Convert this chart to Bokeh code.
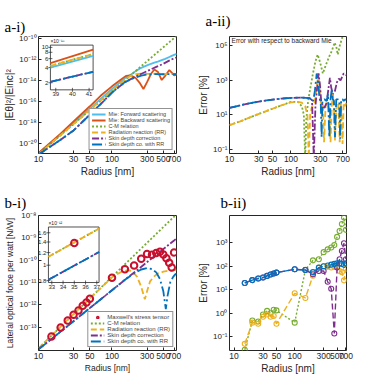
import math
from bokeh.plotting import figure
from bokeh.models import (GridBox, Legend, LegendItem, FixedTicker,
                          CustomJSTickFormatter, Label, Range1d, LinearScale, LogScale)
from bokeh.core.properties import value
from bokeh.embed import file_html
from bokeh.resources import INLINE

# ---------------- data -----------------
# a-i : |E_theta|^2 / |E_inc|^2
ai_r_mie = [10, 20, 30, 50, 70, 100, 130, 155, 180, 210, 240, 268, 300, 340,
            377, 420, 475, 530, 603, 650, 700, 760]
ai_back = [1.12e-21, 7.94e-20, 1.12e-18, 3.16e-17, 3.16e-16, 2.51e-15, 1.0e-14,
           2.51e-14, 2.82e-14, 1.58e-14, 5.01e-15, 1.41e-15, 6.31e-15, 3.98e-14,
           1.0e-13, 6.31e-14, 1.0e-14, 2.51e-14, 8.91e-14, 5.01e-14, 2.82e-14, 3.16e-14]
ai_fwd = [8.91e-22, 6.31e-20, 7.94e-19, 1.78e-17, 1.58e-16, 1.41e-15, 6.31e-15,
          1.78e-14, 3.16e-14, 7.08e-14, 1.26e-13, 1.78e-13, 2.51e-13, 3.55e-13,
          4.47e-13, 5.62e-13, 7.94e-13, 1.05e-12, 1.58e-12, 2.0e-12, 2.51e-12, 3.16e-12]
ai_r_cm = [10, 30, 100, 300, 700, 760]
ai_cm = [8.5e-22, 6.3e-19, 8.5e-16, 6.2e-13, 1.0e-10, 1.64e-10]
ai_r_rr = [10, 20, 30, 50, 70, 100, 130, 155, 180, 210, 250, 300, 400, 500, 600, 700, 760]
ai_rr = [8.5e-22, 5.62e-20, 6.31e-19, 1.41e-17, 1.12e-16, 1.0e-15, 4.47e-15, 1.26e-14,
         2.51e-14, 3.55e-14, 3.98e-14, 3.8e-14, 3.98e-14, 3.55e-14, 3.98e-14, 3.8e-14, 3.8e-14]
ai_r_sd = [10, 20, 30, 50, 70, 100, 150, 200, 300, 400, 500, 600, 700, 760]
ai_sd = [7.94e-22, 2.0e-20, 1.58e-19, 5.01e-18, 5.01e-17, 6.31e-16, 6.31e-15, 1.78e-14,
         7.08e-14, 1.78e-13, 3.55e-13, 7.08e-13, 1.17e-12, 1.41e-12]
ai_r_sdrr = [10, 20, 30, 50, 70, 100, 150, 200, 250, 300, 400, 500, 600, 700, 760]
ai_sdrr = [7.94e-22, 2.0e-20, 1.58e-19, 5.01e-18, 5.01e-17, 6.31e-16, 6.31e-15, 1.58e-14,
           2.63e-14, 3.31e-14, 3.72e-14, 3.55e-14, 3.72e-14, 3.63e-14, 3.63e-14]
# a-i inset (x1e-18)
ins_a_r = [38.68, 41.24]
ins_a_back = [4.9, 9.0]
ins_a_rr = [4.3, 7.4]
ins_a_fwd = [4.0, 6.8]
ins_a_sd = [2.09, 3.3]

# a-ii : error [%] w.r.t. backward Mie
aii_r_sdrr = [10, 15, 20, 30, 50, 70, 100, 150, 200, 215, 230, 245, 262, 275, 290, 305,
              315, 325, 350, 380, 400, 420, 440, 460, 480, 500, 520, 545, 580, 610, 630,
              655, 690, 720, 760, 800]
aii_sdrr = [25.1, 35.5, 44.7, 58.9, 75.9, 87.1, 95.5, 100, 93.3, 79.4, 63.1, 251, 2512,
            1000, 100, 50.1, 0.5, 63.1, 79.4, 63.1, 158, 0.5, 79.4, 316, 79.4, 63.1, 0.5,
            79.4, 79.4, 63.1, 0.4, 79.4, 79.4, 63.1, 79.4, 70.8]
aii_r_sd = [10, 15, 20, 30, 50, 70, 100, 150, 200, 220, 235, 250, 265, 280, 295, 310, 330,
            350, 380, 410, 430, 450, 480, 520, 560, 600, 640, 680, 720, 800]
aii_sd = [25.1, 35.5, 44.7, 58.9, 75.9, 87.1, 95.5, 100, 93.3, 70.8, 0.032, 31.6, 316,
          2512, 631, 63.1, 31.6, 25.1, 50.1, 398, 1413, 398, 158, 251, 794, 1259, 1000,
          1585, 2512, 1995]
aii_r_rr = [10, 15, 20, 30, 50, 70, 100, 130, 150, 170, 185, 195, 205, 220, 240, 260, 280,
            295, 310, 330, 345, 365, 390, 415, 440, 460, 480, 500, 520, 550, 590, 620,
            650, 690, 720, 760, 800]
aii_rr = [2.51, 4.17, 6.31, 11.2, 22.4, 35.5, 52.5, 56.2, 50.1, 31.6, 10, 0.032, 10, 31.6,
          39.8, 316, 2512, 251, 20, 39.8, 0.25, 31.6, 50.1, 25.1, 0.25, 31.6, 158, 31.6,
          0.32, 39.8, 50.1, 0.25, 50.1, 0.2, 50.1, 31.6, 50.1]
aii_r_cm = [10, 15, 20, 30, 50, 70, 100, 130, 150, 162, 170, 178, 190, 205, 225, 250, 272,
            300, 330, 370, 420, 460, 513, 550, 577, 620, 690, 800]
aii_cm = [2.51, 4.17, 6.31, 11.2, 22.4, 35.5, 56.2, 56.2, 31.6, 10, 0.032, 6.31, 63.1, 316,
          1995, 12589, 31623, 10000, 2512, 7943, 25119, 50119, 158489, 79433, 31623,
          100000, 354813, 794328]

# b-i : lateral optical force per watt [N/W]
bi_r_mst = [15, 20, 25, 30, 35, 40, 45, 50, 100, 150, 200, 250, 300, 350, 400, 450, 500,
            550, 600, 650, 700]
bi_mst = [3.8e-14, 9.55e-14, 1.95e-13, 3.55e-13, 5.5e-13, 8.91e-13, 1.26e-12, 1.86e-12,
          1.62e-11, 3.89e-11, 5.75e-11, 1.15e-10, 1.86e-10, 1.74e-10, 2.09e-10, 2.4e-10,
          1.78e-10, 1.2e-10, 7.59e-11, 4.68e-11, 2.19e-10]
bi_r_cm = [10, 100, 700, 760]
bi_cm = [1.12e-14, 1.78e-11, 8.91e-9, 1.15e-8]
bi_r_rr = [10, 30, 50, 100, 130, 160, 190, 220, 250, 280, 300, 330, 370, 420, 500, 600, 700, 760]
bi_rr = [1.12e-14, 3.8e-13, 1.91e-12, 1.7e-11, 2.82e-11, 3.55e-11, 3.16e-11, 1.78e-11,
         6.31e-12, 1.78e-12, 3.98e-12, 1.12e-11, 1.78e-11, 2.51e-11, 3.02e-11, 3.39e-11,
         3.55e-11, 3.63e-11]
bi_r_sd = [10, 100, 700, 760]
bi_sd = [1.0e-14, 4.47e-12, 7.59e-10, 9.55e-10]
bi_r_sdrr = [10, 30, 50, 100, 150, 200, 250, 300, 350, 400, 450, 500, 540, 570, 620, 680, 720, 760]
bi_sdrr = [1.0e-14, 1.82e-13, 7.08e-13, 4.47e-12, 1.32e-11, 2.51e-11, 3.8e-11, 4.37e-11,
           3.98e-11, 2.82e-11, 1.41e-11, 3.98e-12, 6.31e-13, 2.51e-12, 1.0e-11, 1.78e-11,
           2.24e-11, 2.51e-11]
# b-i inset (x1e-12)
ins_b_r = [32.7, 37.2]
ins_b_rr = [1.13, 1.70]
ins_b_sd = [0.81, 1.21]
ins_b_mst_r = [35]
ins_b_mst = [1.38]

# b-ii : error [%]
bii_r = [15, 20, 25, 30, 35, 40, 45, 50, 100, 150, 200, 250, 300, 350, 400, 450, 500,
         550, 600, 650, 700]
bii_sdrr = [19.5, 25.7, 30.2, 33.1, 38.9, 44.7, 49.0, 53.7, 74.1, 69.2, 56.2, 87.1, 100,
            107, 117, 126, 132, 132, 126, 115, 132]
bii_sd = [19.5, 25.7, 30.2, 33.1, 38.9, 44.7, 49.0, 53.7, 74.1, 69.2, 45.7, 63.1, 63.1,
          21.9, 11.0, 0.138, 89.1, 200, 447, 955, 200]
bii_cm = [0.028, 0.49, 0.447, 0.891, 1.26, 1.0, 1.41, 1.32, 0.398, 70.8, 178, 200, 398,
          525, 631, 794, 1778, 3162, 6310, 11749, 3548]
bii_rr = [0.05, 0.398, 0.355, 0.708, 0.891, 0.708, 0.759, 0.355, 7.08, 4.47, 39.8, 89.1,
          100, 95.5, 89.1, 93.3, 95.5, 63.1, 56.2, 25.1, 79.4]

# ticks
x_ticks = [10, 30, 50, 100, 300, 500, 700]
x_labels = ["10", "30", "50", "100", "300", "500", "700"]
x_ticks_aii = [10, 30, 50, 100, 300, 700]
x_labels_aii = ["10", "30", "50", "100", "300", "700"]
y_ticks_ai = [1e-20, 1e-18, 1e-16, 1e-14, 1e-12, 1e-10]
y_labels_ai = ["10⁻²⁰", "10⁻¹⁸", "10⁻¹⁶", "10⁻¹⁴", "10⁻¹²", "10⁻¹⁰"]
y_ticks_aii = [0.1, 10, 1000, 100000]
y_labels_aii = ["10⁻¹", "10¹", "10³", "10⁵"]
y_ticks_bi = [1e-13, 1e-12, 1e-11, 1e-10, 1e-9, 1e-8]
y_labels_bi = ["10⁻¹³", "10⁻¹²", "10⁻¹¹", "10⁻¹⁰", "10⁻⁹", "10⁻⁸"]
y_ticks_bii = [0.1, 1, 10, 100, 1000]
y_labels_bii = ["10⁻¹", "10⁰", "10¹", "10²", "10³"]
ins_a_xt = [39, 40, 41]
ins_a_xl = ["39", "40", "41"]
ins_a_yt = [2, 4, 6, 8, 10]
ins_a_yl = ["2", "4", "6", "8", "10"]
ins_b_xt = [33, 34, 35, 36, 37]
ins_b_xl = ["33", "34", "35", "36", "37"]
ins_b_yt = [0.8, 1.0, 1.2, 1.4, 1.6]
ins_b_yl = ["0.8", "1", "1.2", "1.4", "1.6"]

# ---------------- styles -----------------
C_LBLUE, C_RED, C_GREEN = "#4DBEEE", "#D95319", "#77AC30"
C_YEL, C_PUR, C_BLUE, C_MST = "#EDB120", "#7E2F8E", "#0072BD", "#C8102E"
DOT, DASH, DASHDOT_P, DASHDOT_B = "2 2", "6 3", "7 2 2 2", "10 3 2 3"
FONT = "Liberation Sans"
INK = "#262626"
LW = 1.8


def fmt(tv, tl):
    return CustomJSTickFormatter(args=dict(tvals=tv, tlabs=tl), code="""
        let best = 0, d = Infinity;
        for (let i = 0; i < tvals.length; i++) {
            const e = Math.abs(Math.log(tick / tvals[i]));
            if (e < d) { d = e; best = i; }
        }
        return tlabs[best];
    """)


def make_fig(w, h, xr, yr, borders, title, tstand, toff):
    p = figure(width=w, height=h, x_axis_type="log", y_axis_type="log",
               x_range=Range1d(*xr), y_range=Range1d(*yr),
               output_backend="svg", toolbar_location=None,
               min_border_top=borders[0], min_border_right=borders[1],
               min_border_bottom=borders[2], min_border_left=borders[3])
    p.grid.visible = False
    p.outline_line_color = INK
    p.outline_line_width = 1
    p.background_fill_color = "white"
    p.border_fill_color = "white"
    p.axis.axis_line_color = None
    p.axis.major_tick_in = 3
    p.axis.major_tick_out = 0
    p.axis.major_tick_line_color = INK
    p.axis.minor_tick_line_color = None
    p.axis.major_label_text_font = FONT
    p.axis.major_label_text_color = INK
    p.axis.axis_label_text_font = FONT
    p.axis.axis_label_text_font_style = "normal"
    p.axis.axis_label_text_color = INK
    p.title.text = title
    p.title.text_font = "Liberation Serif"
    p.title.text_font_style = "normal"
    p.title.text_font_size = "15px"
    p.title.standoff = tstand
    p.title.offset = toff
    p.title.text_color = "black"
    return p


def set_axes(p, xt, xl, yt, yl, xlab, ylab, lfs="10px"):
    p.xaxis.ticker = FixedTicker(ticks=xt)
    p.xaxis.formatter = fmt(xt, xl)
    p.yaxis.ticker = FixedTicker(ticks=yt)
    p.yaxis.formatter = fmt(yt, yl)
    p.xaxis.major_label_text_font_size = "8.5px"
    p.yaxis.major_label_text_font_size = "8px"
    p.axis.major_label_standoff = 2
    p.xaxis.axis_label = xlab
    p.yaxis.axis_label = ylab
    p.axis.axis_label_text_font_size = lfs
    p.axis.axis_label_standoff = 1


def legend(p, items, fs):
    lg = Legend(items=items, location="bottom_right", label_text_font=FONT,
                label_text_font_size=fs, label_height=4, glyph_height=4,
                glyph_width=14, label_standoff=3, spacing=0, padding=2,
                margin=3, border_line_color=INK, border_line_width=0.8,
                background_fill_alpha=1)
    p.add_layout(lg)


def span_range(frame_len, i0, i1, d0, d1, log):
    """Extend an inset's data range so that it maps onto pixels i0..i1 of a frame."""
    a, b = (math.log10(d0), math.log10(d1)) if log else (d0, d1)
    per = (b - a) / (i1 - i0)
    lo, hi = a - i0 * per, b + (frame_len - i1) * per
    return (10 ** lo, 10 ** hi) if log else (lo, hi)


def inset(p, name, frame_wh, box_px, xr, yr, xt, xl, yt, yl, mult):
    """Inset axes drawn inside the main frame through extra (linear x, log y) scales."""
    fw, fh = frame_wh
    x0p, x1p, y0p, y1p = box_px  # pixels from the frame's left / bottom edges
    p.extra_x_ranges[name + "x"] = Range1d(*span_range(fw, x0p, x1p, xr[0], xr[1], False))
    p.extra_y_ranges[name + "y"] = Range1d(*span_range(fh, y0p, y1p, yr[0], yr[1], True))
    p.extra_x_scales[name + "x"] = LinearScale()
    p.extra_y_scales[name + "y"] = LogScale()
    kw = dict(x_range_name=name + "x", y_range_name=name + "y")
    p.quad(left=xr[0], right=xr[1], bottom=yr[0], top=yr[1], fill_color="white",
           line_color=INK, line_width=0.8, **kw)
    p.scatter(xt, [yr[0]] * len(xt), marker="dash", angle=math.pi / 2, size=4,
              line_color=INK, line_width=0.7, **kw)
    p.scatter([xr[0]] * len(yt), yt, marker="dash", size=4, line_color=INK,
              line_width=0.7, **kw)
    p.text(xt, [yr[0]] * len(xt), text=xl, text_font=value(FONT), text_font_size="6px",
           text_color=INK, text_align="center", text_baseline="top", y_offset=2, **kw)
    p.text([xr[0]] * len(yt), yt, text=yl, text_font=value(FONT), text_font_size="6px",
           text_color=INK, text_align="right", text_baseline="middle", x_offset=-2, **kw)
    p.text([xr[0]], [yr[1]], text=[mult], text_font=value(FONT), text_font_size="5px",
           text_color=INK, text_align="left", text_baseline="bottom", y_offset=-1, **kw)
    return kw


# ---------------- a-i -----------------
fa1 = make_fig(184, 184, (10, 755), (1e-21, 1.41e-10), (19, 8, 29, 37), "a-i)", 3, -34)
set_axes(fa1, x_ticks, x_labels, y_ticks_ai, y_labels_ai, "Radius [nm]", "|Eθ|²/|Einc|²")
r_f = fa1.line(ai_r_mie, ai_fwd, color=C_LBLUE, line_width=LW)
r_b = fa1.line(ai_r_mie, ai_back, color=C_RED, line_width=LW)
r_c = fa1.line(ai_r_cm, ai_cm, color=C_GREEN, line_width=LW, line_dash=DOT)
r_r = fa1.line(ai_r_rr, ai_rr, color=C_YEL, line_width=LW, line_dash=DASH)
r_s = fa1.line(ai_r_sd, ai_sd, color=C_PUR, line_width=LW, line_dash=DASHDOT_P)
r_sr = fa1.line(ai_r_sdrr, ai_sdrr, color=C_BLUE, line_width=LW, line_dash=DASHDOT_B)
legend(fa1, [LegendItem(label="Mie: Forward scattering", renderers=[r_f]),
             LegendItem(label="Mie: Backward scattering", renderers=[r_b]),
             LegendItem(label="C-M relation", renderers=[r_c]),
             LegendItem(label="Radiation reaction (RR)", renderers=[r_r]),
             LegendItem(label="Skin depth correction", renderers=[r_s]),
             LegendItem(label="Skin depth co. with RR", renderers=[r_sr])], "5.5px")
kwa = inset(fa1, "ia", (139, 136), (12, 55, 74, 126), (38.68, 41.24), (1.45, 11.1),
            ins_a_xt, ins_a_xl, ins_a_yt, ins_a_yl, "×10⁻¹⁸")
fa1.line(ins_a_r, ins_a_fwd, color=C_LBLUE, line_width=LW, **kwa)
fa1.line(ins_a_r, ins_a_back, color=C_RED, line_width=LW, **kwa)
fa1.line(ins_a_r, ins_a_rr, color=C_GREEN, line_width=LW, line_dash=DOT, **kwa)
fa1.line(ins_a_r, ins_a_rr, color=C_YEL, line_width=LW, line_dash=DASH, **kwa)
fa1.line(ins_a_r, ins_a_sd, color=C_PUR, line_width=LW, line_dash=DASHDOT_P, **kwa)
fa1.line(ins_a_r, ins_a_sd, color=C_BLUE, line_width=LW, line_dash=DASHDOT_B, **kwa)

# ---------------- a-ii -----------------
fa2 = make_fig(182, 184, (10, 800), (0.056, 3.55e5), (36, 20, 31, 45), "a-ii)", 15, -24)
set_axes(fa2, x_ticks_aii, x_labels_aii, y_ticks_aii, y_labels_aii, "Radius [nm]", "Error [%]")
fa2.line(aii_r_cm, aii_cm, color=C_GREEN, line_width=LW, line_dash=DOT)
fa2.line(aii_r_rr, aii_rr, color=C_YEL, line_width=LW, line_dash=DASH)
fa2.line(aii_r_sd, aii_sd, color=C_PUR, line_width=LW, line_dash=DASHDOT_P)
fa2.line(aii_r_sdrr, aii_sdrr, color=C_BLUE, line_width=LW, line_dash=DASHDOT_B)
fa2.add_layout(Label(x=10.8, y=2.0e5, text="Error with respect to backward Mie",
                     text_font=FONT, text_font_size="6.5px", text_color=INK,
                     text_baseline="middle"))

# ---------------- b-i -----------------
fb1 = make_fig(184, 192, (10, 755), (8.9e-15, 1e-8), (29, 8, 22, 37), "b-i)", 10, -34)
set_axes(fb1, x_ticks, x_labels, y_ticks_bi, y_labels_bi, "Radius [nm]",
         "Lateral optical force per watt [N/W]", lfs="8.5px")
q_c = fb1.line(bi_r_cm, bi_cm, color=C_GREEN, line_width=LW, line_dash=DOT)
q_r = fb1.line(bi_r_rr, bi_rr, color=C_YEL, line_width=LW, line_dash=DASH)
q_s = fb1.line(bi_r_sd, bi_sd, color=C_PUR, line_width=LW, line_dash=DASHDOT_P)
q_sr = fb1.line(bi_r_sdrr, bi_sdrr, color=C_BLUE, line_width=LW, line_dash=DASHDOT_B)
q_m = fb1.scatter(bi_r_mst, bi_mst, marker="circle", size=6.5, fill_color=None,
                  line_color=C_MST, line_width=2)
legend(fb1, [LegendItem(label="Maxwell's stress tensor", renderers=[q_m]),
             LegendItem(label="C-M relation", renderers=[q_c]),
             LegendItem(label="Radiation reaction (RR)", renderers=[q_r]),
             LegendItem(label="Skin depth correction", renderers=[q_s]),
             LegendItem(label="Skin depth co. with RR", renderers=[q_sr])], "6px")
kwb = inset(fb1, "ib", (139, 141), (10, 61, 71, 129), (32.7, 37.2), (0.778, 1.74),
            ins_b_xt, ins_b_xl, ins_b_yt, ins_b_yl, "×10⁻¹²")
fb1.line(ins_b_r, ins_b_rr, color=C_GREEN, line_width=LW, line_dash=DOT, **kwb)
fb1.line(ins_b_r, ins_b_rr, color=C_YEL, line_width=LW, line_dash=DASH, **kwb)
fb1.line(ins_b_r, ins_b_sd, color=C_PUR, line_width=LW, line_dash=DASHDOT_P, **kwb)
fb1.line(ins_b_r, ins_b_sd, color=C_BLUE, line_width=LW, line_dash=DASHDOT_B, **kwb)
fb1.scatter(ins_b_mst_r, ins_b_mst, marker="circle", size=6.5, fill_color=None,
            line_color=C_MST, line_width=2, **kwb)

# ---------------- b-ii -----------------
fb2 = make_fig(182, 192, (8.4, 715), (0.026, 14454), (31, 10, 23, 30), "b-ii)", 9, -9)
set_axes(fb2, x_ticks, x_labels, y_ticks_bii, y_labels_bii, "Radius [nm]", "Error [%]")
for ys, c, d in [(bii_cm, C_GREEN, DOT), (bii_rr, C_YEL, DASH),
                 (bii_sd, C_PUR, DASH), (bii_sdrr, C_BLUE, DASHDOT_B)]:
    fb2.line(bii_r, ys, color=c, line_width=1.4, line_dash=d)
    fb2.scatter(bii_r, ys, marker="circle", size=5, fill_color=None,
                line_color=c, line_width=1.1)

grid = GridBox(children=[(fa1, 0, 0), (fb1, 1, 0), (fa2, 0, 1), (fb2, 1, 1)], spacing=0)

open("out.html", "w").write(file_html(grid, INLINE, title="plot"))
